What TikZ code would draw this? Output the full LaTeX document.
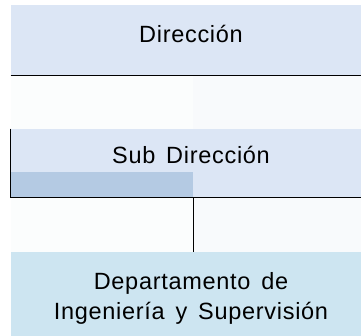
\documentclass[tikz,border=0pt]{standalone}
\usepackage{fontspec}
\setmainfont{Liberation Sans}[LetterSpace=3,WordSpace=1.5]
\usepackage{tikz}
\usetikzlibrary{positioning}
\definecolor{headblue}{HTML}{DCE6F5}
\definecolor{stripblue}{HTML}{B4CAE3}
\definecolor{deptblue}{HTML}{CDE5F1}
\definecolor{bandleft}{HTML}{FBFDFD}
\definecolor{bandright}{HTML}{F8FAFC}
\tikzstyle{unit}=[rectangle,inner sep=0pt,minimum width=360pt,align=center,font=\fontsize{23.5}{30}\selectfont]

\begin{document}
\begin{tikzpicture}[x=1pt,y=-1pt,line width=0.9pt]
	  \useasboundingbox (0,0) rectangle (361,335);
	  \clip (0,0) rectangle (361,335);
	  % bands between the units
	  \fill [bandleft] (11,75) rectangle (193,129);
	  \fill [bandright] (193,75) rectangle (371,129);
	  \fill [bandleft] (11,197) rectangle (193,252);
	  \fill [bandright] (193,197) rectangle (371,252);
	  \node (D) at (191,40) [unit,fill=headblue,minimum height=70pt,text height=17pt,text depth=13pt] {Dirección};
	  \node (S) at (191,163) [unit,fill=headblue,minimum height=68pt,text height=17pt,text depth=17pt] {Sub Dirección};
	  \node (P) at (191,298) [unit,fill=deptblue,minimum height=92pt] {Departamento de\\Ingeniería y Supervisión};
	  \fill [stripblue] (S.south west) rectangle ([xshift=2pt,yshift=25pt]S.south);
	  \draw [] (D.south west) -- (D.south east);
	  \draw [] (S.north west) -- (S.south west) -- (S.south east);
	  \draw [] ([xshift=2pt]S.south) -- ([xshift=2pt]P.north);
    %
    \end{tikzpicture}
\end{document}
